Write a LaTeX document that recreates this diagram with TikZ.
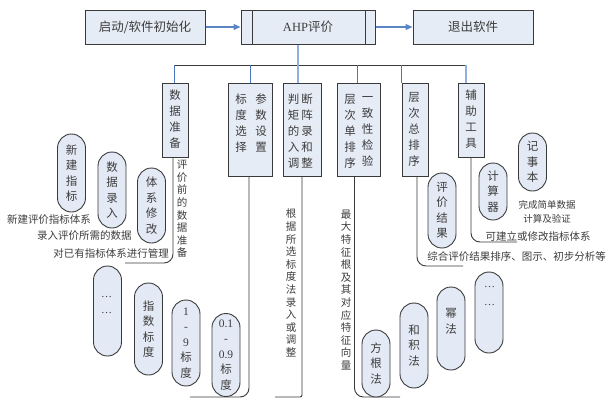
\documentclass[tikz,border=0pt]{standalone}
\usepackage{fontspec}
\setmainfont{Liberation Serif}
\newfontfamily\cjk{Noto Sans CJK SC}
\usetikzlibrary{arrows.meta}
\definecolor{boxfill}{HTML}{E6ECF6}
\definecolor{pillfill}{HTML}{E4EAF5}
\definecolor{edge}{HTML}{3A3A3A}
\definecolor{arrowblue}{HTML}{5B86C6}
\definecolor{dropblue}{HTML}{4A74BC}
\definecolor{lightblue}{HTML}{8FB0DF}
\definecolor{txt}{HTML}{3C3C3C}
\begin{document}
\begin{tikzpicture}[x=1pt,y=-1pt,
  every node/.style={inner sep=0pt, text=txt},
  topbox/.style={draw=edge, fill=boxfill, line width=1pt, minimum height=34pt, font=\cjk\fontsize{12.5}{14}\selectfont},
  catbox/.style={draw=edge, fill=boxfill, line width=1pt},
  boxtxt/.style={font=\cjk\fontsize{11.5}{16}\selectfont, align=center},
  pill/.style={draw=edge, fill=pillfill, line width=0.9pt, minimum width=28pt, rounded corners=14pt, font=\cjk\fontsize{11.5}{15.5}\selectfont, align=center},
  note/.style={font=\cjk\fontsize{10.5}{12.6}\selectfont, align=center},
  dots/.style={anchor=base, font=\rmfamily\fontsize{11}{12}\selectfont},
  flow/.style={arrowblue, line width=1.3pt, -{Triangle[length=7pt,width=6pt]}},
  drop/.style={dropblue, line width=0.9pt},
  dropl/.style={lightblue, line width=1.2pt},
  tree/.style={edge, line width=0.9pt, rounded corners=9pt}
]
\useasboundingbox (0,0) rectangle (606,400);

% top row
\node[topbox, minimum width=120pt] (start) at (145,27) {启动/软件初始化};
\node[topbox, minimum width=134pt] (ahp) at (308,27) {{\rmfamily AHP}评价};
\draw[edge, line width=1pt] ([xshift=12pt]ahp.north west) -- ([xshift=12pt]ahp.south west);
\draw[edge, line width=1pt] ([xshift=-10pt]ahp.north east) -- ([xshift=-10pt]ahp.south east);
\node[topbox, minimum width=120pt] (quit) at (473,27) {退出软件};
\draw[flow] (start) -- (ahp);
\draw[flow] (ahp) -- (quit);

% category boxes
\node[catbox, minimum width=26pt, minimum height=74pt, anchor=north] (data) at (175,83) {};
\node[catbox, minimum width=44pt, minimum height=93pt, anchor=north] (scale) at (250,83) {};
\node[catbox, minimum width=38pt, minimum height=93pt, anchor=north] (judge) at (302,83) {};
\node[catbox, minimum width=43pt, minimum height=93pt, anchor=north] (single) at (358.5,83) {};
\node[catbox, minimum width=26pt, minimum height=93pt, anchor=north] (total) at (415,83) {};
\node[catbox, minimum width=26pt, minimum height=74pt, anchor=north] (tool) at (471,83) {};

\node[boxtxt] (tData) at (175,119) {数\\据\\准\\备};
\node[boxtxt] (tScaleL) at (241,123) {标\\度\\选\\择};
\node[boxtxt] (tScaleR) at (261,123) {参\\数\\设\\置};
\node[boxtxt] (tJudgeL) at (293.5,131) {判\\矩\\的\\入\\调};
\node[boxtxt] (tJudgeR) at (307,131) {断\\阵\\录\\和\\整};
\node[boxtxt] (tSingleL) at (350,131) {层\\次\\单\\排\\序};
\node[boxtxt] (tSingleR) at (367.5,131) {一\\致\\性\\检\\验};
\node[boxtxt] (tTotal) at (414,129) {层\\次\\总\\排\\序};
\node[boxtxt] (tTool) at (471,119) {辅\\助\\工\\具};

% bus
\coordinate (busL) at (174,65);
\coordinate (busR) at (466,65);
\draw[edge, line width=1pt] (busL) -- (busR);
\draw[drop] (busL) -- (busL |- data.north);
\draw[drop] (scale.north |- busL) -- (scale.north);
\draw[dropl] ([xshift=-4pt]judge.north |- ahp.south) -- ([xshift=-4pt]judge.north);
\draw[drop] ([xshift=-1.5pt]single.north |- busL) -- ([xshift=-1.5pt]single.north);
\draw[drop] (total.north west |- busL) -- (total.north west);
\draw[dropl] (busR) -- (busR |- tool.north);

% tree lines
\coordinate (dataEnd) at (125,263);
\draw[tree] ([xshift=-2pt]data.south) -- ([xshift=-2pt]data.south |- dataEnd) -- (dataEnd);
\coordinate (scaleEnd) at (190,397);
\draw[tree] ([xshift=-1pt]scale.south) -- ([xshift=-1pt]scale.south |- scaleEnd) -- (scaleEnd);
\coordinate (judgeEnd) at (275,397);
\draw[tree, rounded corners=2pt] (judge.south) -- (judge.south |- judgeEnd) -- (judgeEnd);
\coordinate (singleEnd) at (400,397);
\draw[tree] ([xshift=-4pt]single.south) -- ([xshift=-4pt]single.south |- singleEnd) -- (singleEnd);
\coordinate (totalEnd) at (463,266);
\draw[tree] ([xshift=2pt]total.south) -- ([xshift=2pt]total.south |- totalEnd) -- (totalEnd);
\coordinate (toolEnd) at (517,242);
\draw[tree] (tool.south) -- (tool.south |- toolEnd) -- (toolEnd);

% notes
\node[note] (n1) at (182,209) {评\\价\\前\\的\\数\\据\\准\\备};
\node[note] (n2) at (291,283) {根\\据\\所\\选\\标\\度\\法\\录\\入\\或\\调\\整};
\node[note] (n3) at (346,290) {最\\大\\特\\征\\根\\及\\其\\对\\应\\特\\征\\向\\量};
\node[note] (n4) at (49,220) {新建评价指标体系};
\node[note] (n5) at (84.5,236) {录入评价所需的数据};
\node[note] (n6) at (111,253) {对已有指标体系进行管理};
\node[note] (n7) at (516.5,257) {综合评价结果排序、图示、初步分析等};
\node[note] (n8) at (538,236) {可建立或修改指标体系};
\node[note, font=\cjk\fontsize{9.5}{13.5}\selectfont] (n9) at (547,212) {完成简单数据\\计算及验证};

% pills: data group
\node[pill, minimum height=78pt] (pNew) at (71.5,173) {新\\建\\指\\标};
\node[pill, minimum height=76pt] (pIn) at (112,190) {数\\据\\录\\入};
\node[pill, minimum height=75pt] (pMod) at (151.5,205.5) {体\\系\\修\\改};

% pills: scale group
\node[pill, minimum height=90pt] (pDotsA) at (107.5,311) {};
\node[dots] (dA1) at (106.5,297.5) {…};
\node[dots] (dA2) at (106.5,313.5) {…};
\node[pill, minimum height=92pt] (pExp) at (148.5,329) {指\\数\\标\\度};
\node[pill, minimum height=86pt] (p19) at (186,343) {{\rmfamily 1}\\{\rmfamily -}\\{\rmfamily 9}\\标\\度};
\node[pill, minimum height=83pt] (p0109) at (226,355) {{\rmfamily 0.1}\\{\rmfamily -}\\{\rmfamily 0.9}\\标\\度};

% pills: single ranking group
\node[pill, minimum height=67pt] (pRoot) at (376,363.5) {方\\根\\法};
\node[pill, minimum height=85pt] (pSum) at (414,345.5) {和\\积\\法};
\node[pill, minimum height=83pt] (pPow) at (451,328.5) {幂\\法\\\mbox{}};
\node[pill, minimum height=81pt] (pDotsB) at (489,312.5) {};
\node[dots] (dB1) at (489.5,287.5) {…};
\node[dots] (dB2) at (489.5,305.5) {…};

% pills: total & tools
\node[pill, minimum height=75pt] (pRes) at (442,210.5) {评\\价\\结\\果};
\node[pill, minimum height=57pt] (pCalc) at (493,191.5) {计\\算\\器};
\node[pill, minimum height=58pt] (pNote) at (532.5,162) {记\\事\\本};
\end{tikzpicture}
\end{document}
